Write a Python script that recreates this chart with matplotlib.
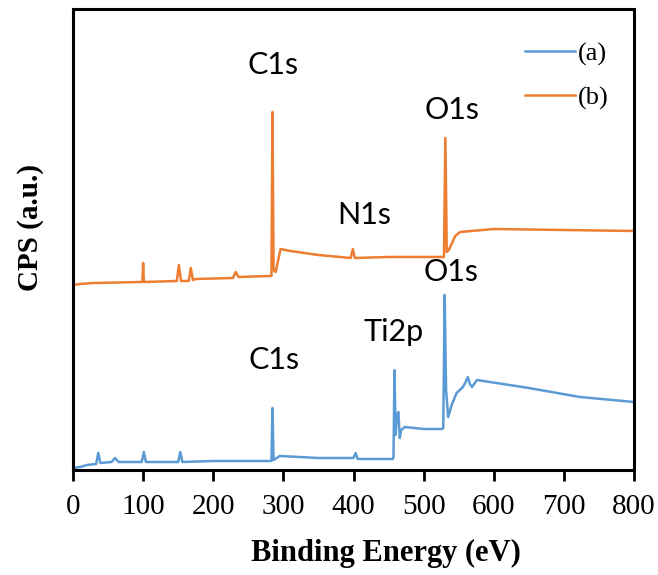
import matplotlib
matplotlib.use("Agg")
import matplotlib.pyplot as plt

# --- data (intensity in arbitrary units) ---
energy_a = [0, 10, 20, 33, 36, 39, 55, 60, 65, 80, 98, 101, 104, 150, 153, 156,
            200, 280, 283, 284.5, 286, 295, 350, 400, 403, 406, 456, 457, 458.5,
            460, 462, 464, 466, 468, 473, 500, 526, 528, 530, 532, 535, 540, 547,
            556, 560, 563, 566, 569, 576, 650, 723, 800]
cps_a = [2, 3, 5, 6, 17, 7, 8, 12, 8, 8, 8, 18, 8, 8, 18, 8,
         9, 9, 9, 62, 10, 14, 12, 12, 17, 11, 11, 13, 100,
         35, 55, 58, 32, 40, 43, 41, 41, 42, 175, 80, 53, 65, 77,
         83, 88, 93, 86, 83, 90, 82, 73, 68]

energy_b = [0, 10, 30, 95, 99, 100, 101, 148, 151, 154, 165, 168, 171, 175,
            228, 232, 236, 280, 283, 284.5, 286, 289, 296, 310, 350, 396, 399,
            402, 450, 525, 529, 531, 533, 536, 545, 552, 600, 700, 800]
cps_b = [185, 186, 187, 188, 188, 207, 188, 189, 205, 189, 189, 202, 190, 191,
         192, 198, 193, 194, 194, 358, 200, 198, 221, 219, 215, 212, 221,
         212, 213, 213, 213, 332, 218, 220, 234, 238, 241, 240, 239]

labels_top = ["C1s", "N1s", "O1s"]
labels_top_pos = [(286, 405), (415, 255), (540, 360)]
labels_bot = ["C1s", "Ti2p", "O1s"]
labels_bot_pos = [(287, 110), (457, 138), (539, 198)]

blue = "#5B9BD5"
orange = "#ED7D31"

fig = plt.figure(figsize=(6.58, 5.75), dpi=100)
ax = fig.add_axes([73 / 658, 105 / 575, 561 / 658, 461 / 575])

ax.plot(energy_a, cps_a, color=blue, lw=1.8, label="(a)")
ax.plot(energy_b, cps_b, color=orange, lw=1.8, label="(b)")

ax.set_xlim(0, 800)
ax.set_ylim(0, 461)
ax.set_xticks(range(0, 801, 100))
ax.set_yticks([])
ax.tick_params(axis="x", direction="out", length=8, width=2, pad=9,
               labelsize=21, labelfontfamily="Liberation Serif")
for sp in ax.spines.values():
    sp.set_linewidth(2.2)

ax.set_xlabel("Binding Energy (eV)", family="Liberation Serif",
              fontweight="bold", fontsize=22)
ax.xaxis.set_label_coords(0.558, -0.15)
ax.set_ylabel("CPS (a.u.)", family="Liberation Serif",
              fontweight="bold", fontsize=21)
ax.yaxis.set_label_coords(-0.052, 0.525)

for txt, (x, y) in zip(labels_top + labels_bot, labels_top_pos + labels_bot_pos):
    ax.text(x, y, txt, ha="center", va="center", family="Lato", fontsize=22)

leg = ax.legend(loc="upper right", bbox_to_anchor=(0.997, 0.98), frameon=False,
                prop={"family": "Liberation Serif", "size": 19},
                handlelength=1.9, handletextpad=0.1, labelspacing=0.75)

fig.savefig("out.png", dpi=100)
